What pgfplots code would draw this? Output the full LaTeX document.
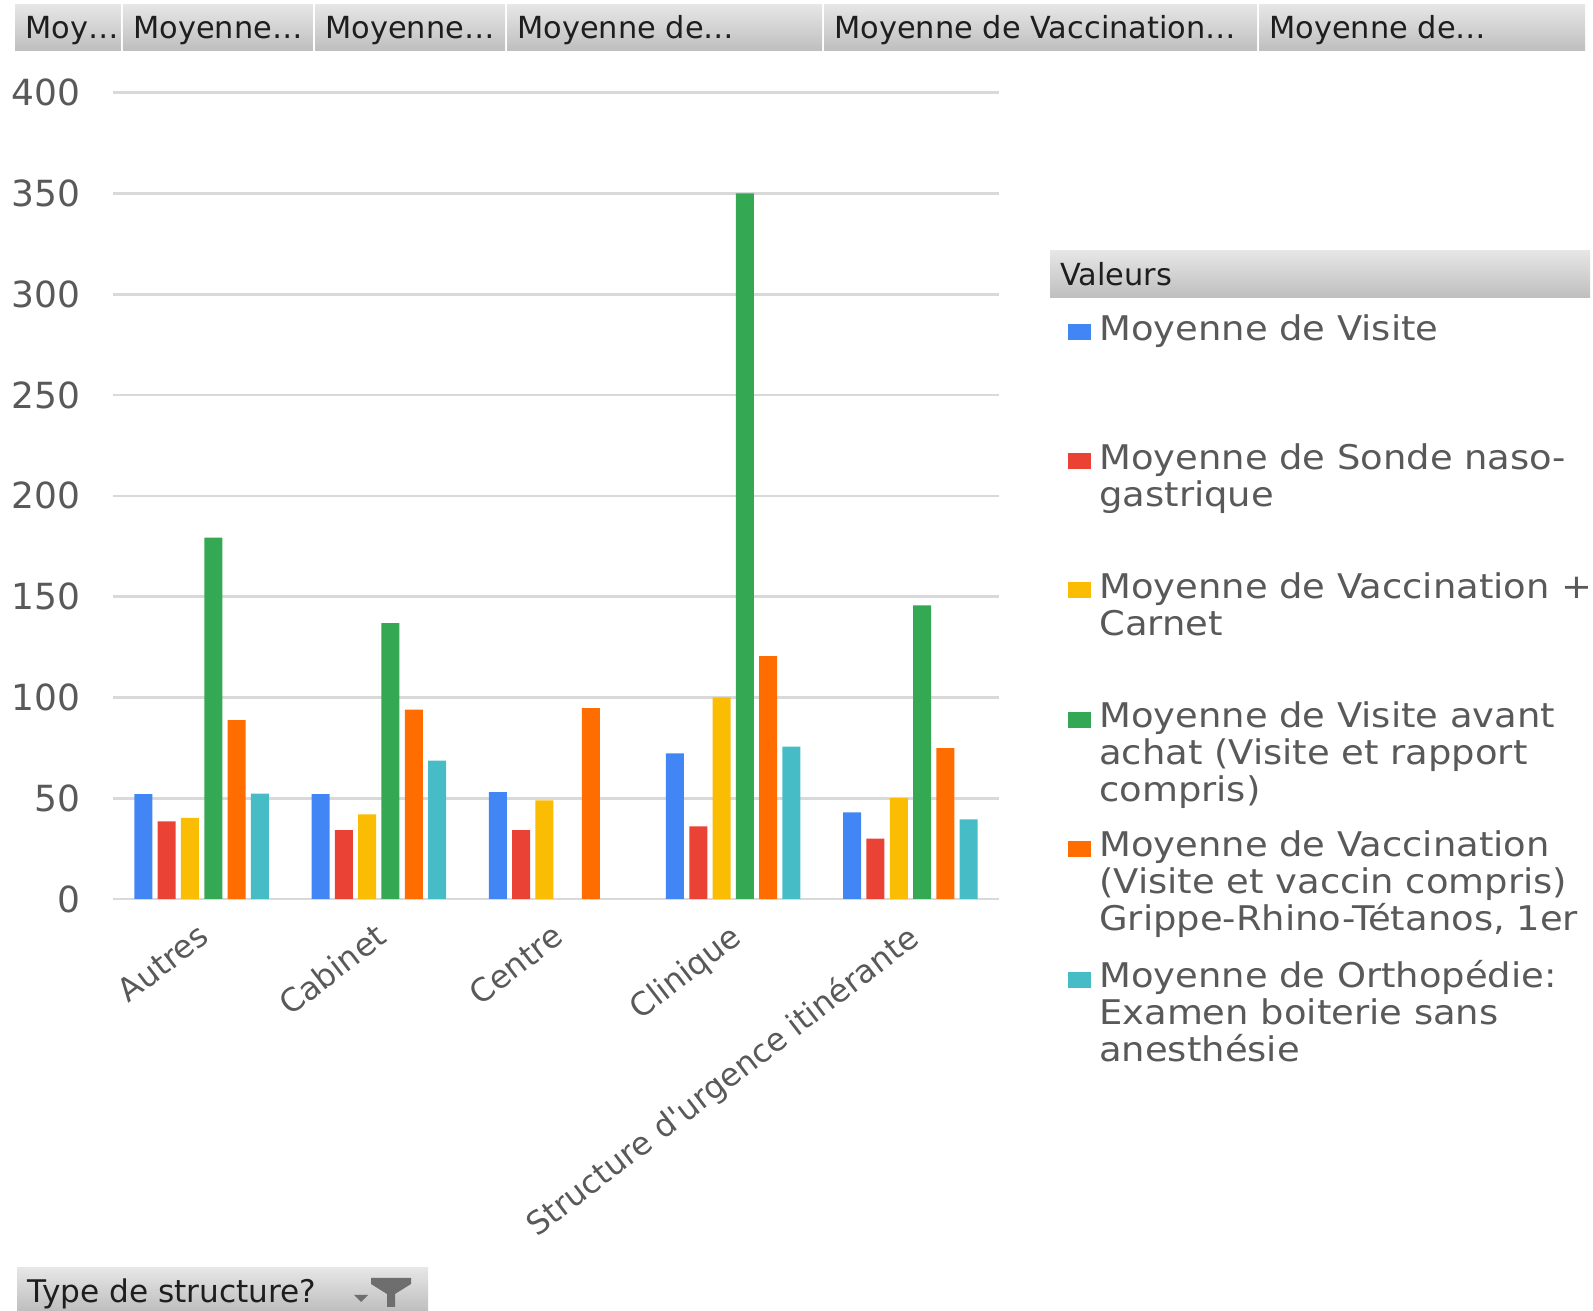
\documentclass[border=0pt]{standalone}
\usepackage{fontspec}
\setmainfont{DejaVu Sans}
\newfontfamily\legfont{DejaVu Sans}[FakeStretch=1.085]
\newfontfamily\catfont{DejaVu Sans}[Ligatures=TeXOff]
\usepackage{pgfplots}
\pgfplotsset{compat=1.18}
\definecolor{cblue}{HTML}{4285F4}
\definecolor{cred}{HTML}{EA4335}
\definecolor{cyellow}{HTML}{FBBC04}
\definecolor{cgreen}{HTML}{34A853}
\definecolor{corange}{HTML}{FF6D01}
\definecolor{ccyan}{HTML}{46BDC6}
\definecolor{txt}{HTML}{595959}
\definecolor{gridc}{HTML}{D9D9D9}
\definecolor{btntop}{HTML}{E6E6E6}
\definecolor{btnbot}{HTML}{BEBEBE}
\definecolor{btntext}{HTML}{1E1E1E}
\definecolor{icon}{HTML}{6E6E6E}
\begin{document}
\begin{tikzpicture}[x=1bp,y=1bp]
\path[use as bounding box] (0,0) rectangle (796.5,655.5);
% field buttons at the top
\foreach \a/\b/\t in {7.6/60.45/Moy…, 61.45/156.45/Moyenne…, 157.5/252.5/Moyenne…, 253.5/411/Moyenne de…, 412/628.5/Moyenne de Vaccination…, 629.5/792.5/Moyenne de…}{
  \shade[top color=btntop, bottom color=btnbot] (\a,630) rectangle (\b,653);
  \node[anchor=base west, inner sep=0pt, text=btntext, font=\fontsize{15.2bp}{18bp}\selectfont] at (\a+5,636) {\t};
}
% legend header
\shade[top color=btntop, bottom color=btnbot] (525,506.5) rectangle (795,530);
\node[anchor=base west, inner sep=0pt, text=btntext, font=\fontsize{15.2bp}{18bp}\selectfont] at (530,512.5) {Valeurs};
% bottom field button
\shade[top color=btntop, bottom color=btnbot] (8.5,0) rectangle (214,21.5);
\node[anchor=base west, inner sep=0pt, text=btntext, font=\fontsize{15.6bp}{18bp}\selectfont] at (13.7,4) {Type de structure?};
\fill[icon] (185.5,16.5) -- (205.5,16.5) -- (205.5,13.5) -- (197.5,8.5) -- (197.5,2) -- (193.5,2) -- (193.5,8.5) -- (185.5,13.5) -- cycle;
\fill[icon] (177,8) -- (184,8) -- (180.5,4.5) -- cycle;

\begin{axis}[
  at={(56.5bp,206bp)}, anchor=south west,
  scale only axis, width=443bp, height=403.15bp,
  xmin=-0.5, xmax=4.5, ymin=0, ymax=400,
  ytick={0,50,...,400},
  xtick={0,1,2,3,4},
  xticklabels={Autres,Cabinet,Centre,Clinique,Structure d'urgence itinérante},
  ymajorgrids,
  major grid style={gridc, line width=1.3bp},
  axis line style={draw=none},
  tick style={draw=none},
  /pgf/number format/assume math mode=true,
  yticklabel style={font=\fontsize{18bp}{20bp}\selectfont, text=txt, anchor=east, inner sep=0pt, xshift=-16bp},
  xticklabel style={font=\catfont\fontsize{16bp}{19bp}\selectfont, text=txt, inner sep=0pt, xshift=-2.5bp, yshift=-7bp, rotate=37.6, anchor=north east},
  ybar=2.65bp, bar width=9bp,
  every axis plot post/.append style={legend image code/.code={\fill[##1] (0bp,0bp) rectangle (11.5bp,8bp); \path (0bp,-49.7bp);}},
  legend style={at={(1.0782,0.7302)}, anchor=north west, draw=none, fill=none,
    inner sep=0pt, outer sep=0pt, row sep=0pt, column sep=2bp,
    font=\legfont\fontsize{17bp}{18.5bp}\selectfont,
    cells={anchor=base west, inner sep=0pt, text height=, text depth=, text=txt, font=\legfont\fontsize{17bp}{18.5bp}\selectfont}},
]
\addplot[fill=cblue, draw=none] coordinates {(0,52) (1,52) (2,53) (3,72.3) (4,43)};
\addlegendentry{\parbox[t]{300bp}{Moyenne de Visite}}
\addplot[fill=cred, draw=none] coordinates {(0,38.5) (1,34.2) (2,34.2) (3,36) (4,30)};
\addlegendentry{\parbox[t]{300bp}{Moyenne de Sonde naso-\\gastrique}}
\addplot[fill=cyellow, draw=none] coordinates {(0,40.2) (1,42) (2,48.9) (3,100) (4,50)};
\addlegendentry{\parbox[t]{300bp}{Moyenne de Vaccination +\\Carnet}}
\addplot[fill=cgreen, draw=none] coordinates {(0,179.3) (1,136.9) (3,350) (4,145.7)};
\addlegendentry{\parbox[t]{300bp}{Moyenne de Visite avant\\achat (Visite et rapport\\compris)}}
\addplot[fill=corange, draw=none] coordinates {(0,88.7) (1,93.9) (2,94.7) (3,120.5) (4,74.8)};
\addlegendentry{\parbox[t]{300bp}{Moyenne de Vaccination\\(Visite et vaccin compris)\\Grippe-Rhino-Tétanos, 1er}}
\addplot[fill=ccyan, draw=none] coordinates {(0,52.3) (1,68.6) (3,75.6) (4,39.5)};
\addlegendentry{\parbox[t]{300bp}{Moyenne de Orthopédie:\\Examen boiterie sans\\anesthésie}}
\end{axis}
\end{tikzpicture}
\end{document}
